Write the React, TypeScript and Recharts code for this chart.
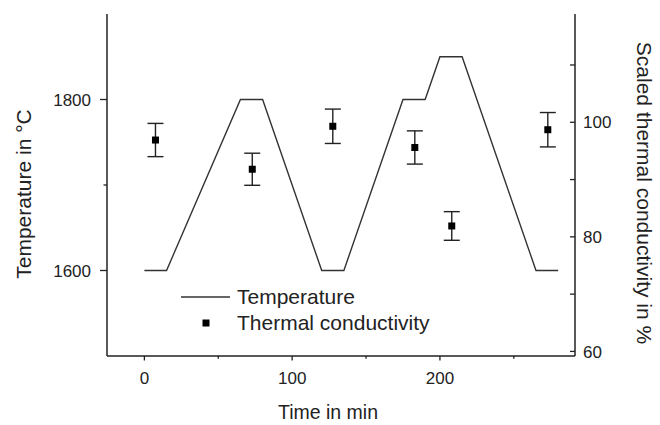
import { ComposedChart, Line, Scatter, ErrorBar, XAxis, YAxis, Legend } from "recharts"

// temperature programme (left axis)
const tempTime = [0, 15, 65, 80, 120, 135, 175, 190, 200, 215, 265, 280]
const tempValue = [1600, 1600, 1800, 1800, 1600, 1600, 1800, 1800, 1850, 1850, 1600, 1600]

// scaled thermal conductivity (right axis)
const condTime = [7.5, 73, 127.5, 183, 208, 273]
const condValue = [96.9, 91.8, 99.3, 95.6, 81.9, 98.7]
const condError = [2.9, 2.8, 3.0, 2.9, 2.5, 3.0]

const timeTicks = [0, 50, 100, 150, 200, 250]
const timeLabels = [0, 100, 200]
const tempTicks = [1600, 1700, 1800]
const tempLabels = [1600, 1800]
const condTicks = [60, 70, 80, 90, 100, 110]
const condLabels = [60, 80, 100]

const tempData = tempTime.map((t, i) => ({ t, T: tempValue[i] }))
const condData = condTime.map((t, i) => ({ t, v: condValue[i], e: condError[i] }))

const ink = "#222"
const font = "'Liberation Sans', Arial, sans-serif"

const BottomTick = ({ x, y, payload }: any) => {
    const major = timeLabels.includes(payload.value)
    return (
        <g>
            <line x1={x} x2={x} y1={y} y2={y + (major ? 4.5 : 2.7)} stroke={ink} strokeWidth={1.3} />
            {major && (
                <text x={x} y={y + 28} textAnchor="middle" fontSize={17} fill={ink} fontFamily={font}>
                    {payload.value}
                </text>
            )}
        </g>
    )
}

const TopTick = ({ x, y, payload }: any) => {
    const major = timeLabels.includes(payload.value)
    return <line x1={x} x2={x} y1={y} y2={y + (major ? 6.7 : 4.3)} stroke={ink} strokeWidth={1.3} />
}

const LeftTick = ({ x, y, payload }: any) => {
    const major = tempLabels.includes(payload.value)
    return (
        <g>
            <line x1={x - (major ? 7 : 3.5)} x2={x} y1={y} y2={y} stroke={ink} strokeWidth={1.3} />
            {major && (
                <text x={x - 16} y={y} dy="0.36em" textAnchor="end" fontSize={17} fill={ink} fontFamily={font}>
                    {payload.value}
                </text>
            )}
        </g>
    )
}

const RightTick = ({ x, y, payload }: any) => {
    const major = condLabels.includes(payload.value)
    return (
        <g>
            <line x1={x - 5} x2={x} y1={y} y2={y} stroke={ink} strokeWidth={1.3} />
            {major && (
                <text x={x + 8} y={y} dy="0.36em" textAnchor="start" fontSize={17} fill={ink} fontFamily={font}>
                    {payload.value}
                </text>
            )}
        </g>
    )
}

const Square = ({ cx, cy }: any) => <rect x={cx - 3.5} y={cy - 3.5} width={7} height={7} fill="#000" />

const LegendBox = () => (
    <div style={{ fontFamily: font, fontSize: 21, color: ink, lineHeight: "26px" }}>
        <div style={{ display: "flex", alignItems: "center", height: 26 }}>
            <svg width={56} height={26}>
                <line x1={0} x2={49} y1={13} y2={13} stroke="#333" strokeWidth={1.4} />
            </svg>
            <span>Temperature</span>
        </div>
        <div style={{ display: "flex", alignItems: "center", height: 26 }}>
            <svg width={56} height={26}>
                <rect x={21.5} y={9.5} width={7} height={7} fill="#000" />
            </svg>
            <span>Thermal conductivity</span>
        </div>
    </div>
)

export default function App() {
    return (
        <div style={{ position: "absolute", left: 0, top: 0, width: 660, height: 425, background: "#fff" }}>
            <ComposedChart width={660} height={425} margin={{ top: 14, right: 0, bottom: 0, left: 0 }} style={{ fontFamily: font }}>
                <XAxis
                    xAxisId="b"
                    dataKey="t"
                    type="number"
                    domain={[-25.3, 291.4]}
                    allowDataOverflow
                    ticks={timeTicks}
                    height={69}
                    tickSize={0}
                    tickMargin={0}
                    tickLine={false}
                    axisLine={{ stroke: ink, strokeWidth: 1.5 }}
                    tick={<BottomTick />}
                    label={{ value: "Time in min", position: "insideBottom", offset: 6, dx: -13, fontSize: 19.5, fill: ink }}
                />
                <XAxis
                    xAxisId="t"
                    orientation="top"
                    type="number"
                    domain={[-25.3, 291.4]}
                    allowDataOverflow
                    ticks={timeTicks}
                    height={0}
                    tickSize={0}
                    tickMargin={0}
                    tickLine={false}
                    axisLine={{ stroke: ink, strokeWidth: 1.5 }}
                    tick={<TopTick />}
                />
                <YAxis
                    yAxisId="L"
                    type="number"
                    domain={[1500, 1900]}
                    allowDataOverflow
                    ticks={tempTicks}
                    width={107}
                    tickSize={0}
                    tickMargin={0}
                    tickLine={false}
                    axisLine={{ stroke: ink, strokeWidth: 1.5 }}
                    tick={<LeftTick />}
                    label={{ value: "Temperature in °C", angle: -90, position: "insideLeft", offset: 24, dy: 9, fontSize: 21, fill: ink, style: { textAnchor: "middle" } }}
                />
                <YAxis
                    yAxisId="R"
                    orientation="right"
                    type="number"
                    domain={[59.2, 118.9]}
                    allowDataOverflow
                    ticks={condTicks}
                    width={85}
                    tickSize={0}
                    tickMargin={0}
                    tickLine={false}
                    axisLine={{ stroke: ink, strokeWidth: 1.5 }}
                    tick={<RightTick />}
                    label={{ value: "Scaled thermal conductivity in %", angle: 90, position: "insideRight", offset: 16, dy: 8, fontSize: 21, fill: ink, style: { textAnchor: "middle" } }}
                />
                <Legend
                    layout="vertical"
                    align="center"
                    verticalAlign="middle"
                    content={<LegendBox />}
                    wrapperStyle={{ left: 181, top: 284, width: 280 }}
                />
                <Line
                    xAxisId="b"
                    yAxisId="L"
                    data={tempData}
                    dataKey="T"
                    type="linear"
                    stroke="#333"
                    strokeWidth={1.4}
                    dot={false}
                    isAnimationActive={false}
                />
                <Scatter
                    xAxisId="b"
                    yAxisId="R"
                    data={condData}
                    dataKey="v"
                    shape={<Square />}
                    isAnimationActive={false}
                >
                    <ErrorBar dataKey="e" direction="y" width={8} stroke={ink} strokeWidth={1.4} isAnimationActive={false} />
                </Scatter>
            </ComposedChart>
        </div>
    )
}
